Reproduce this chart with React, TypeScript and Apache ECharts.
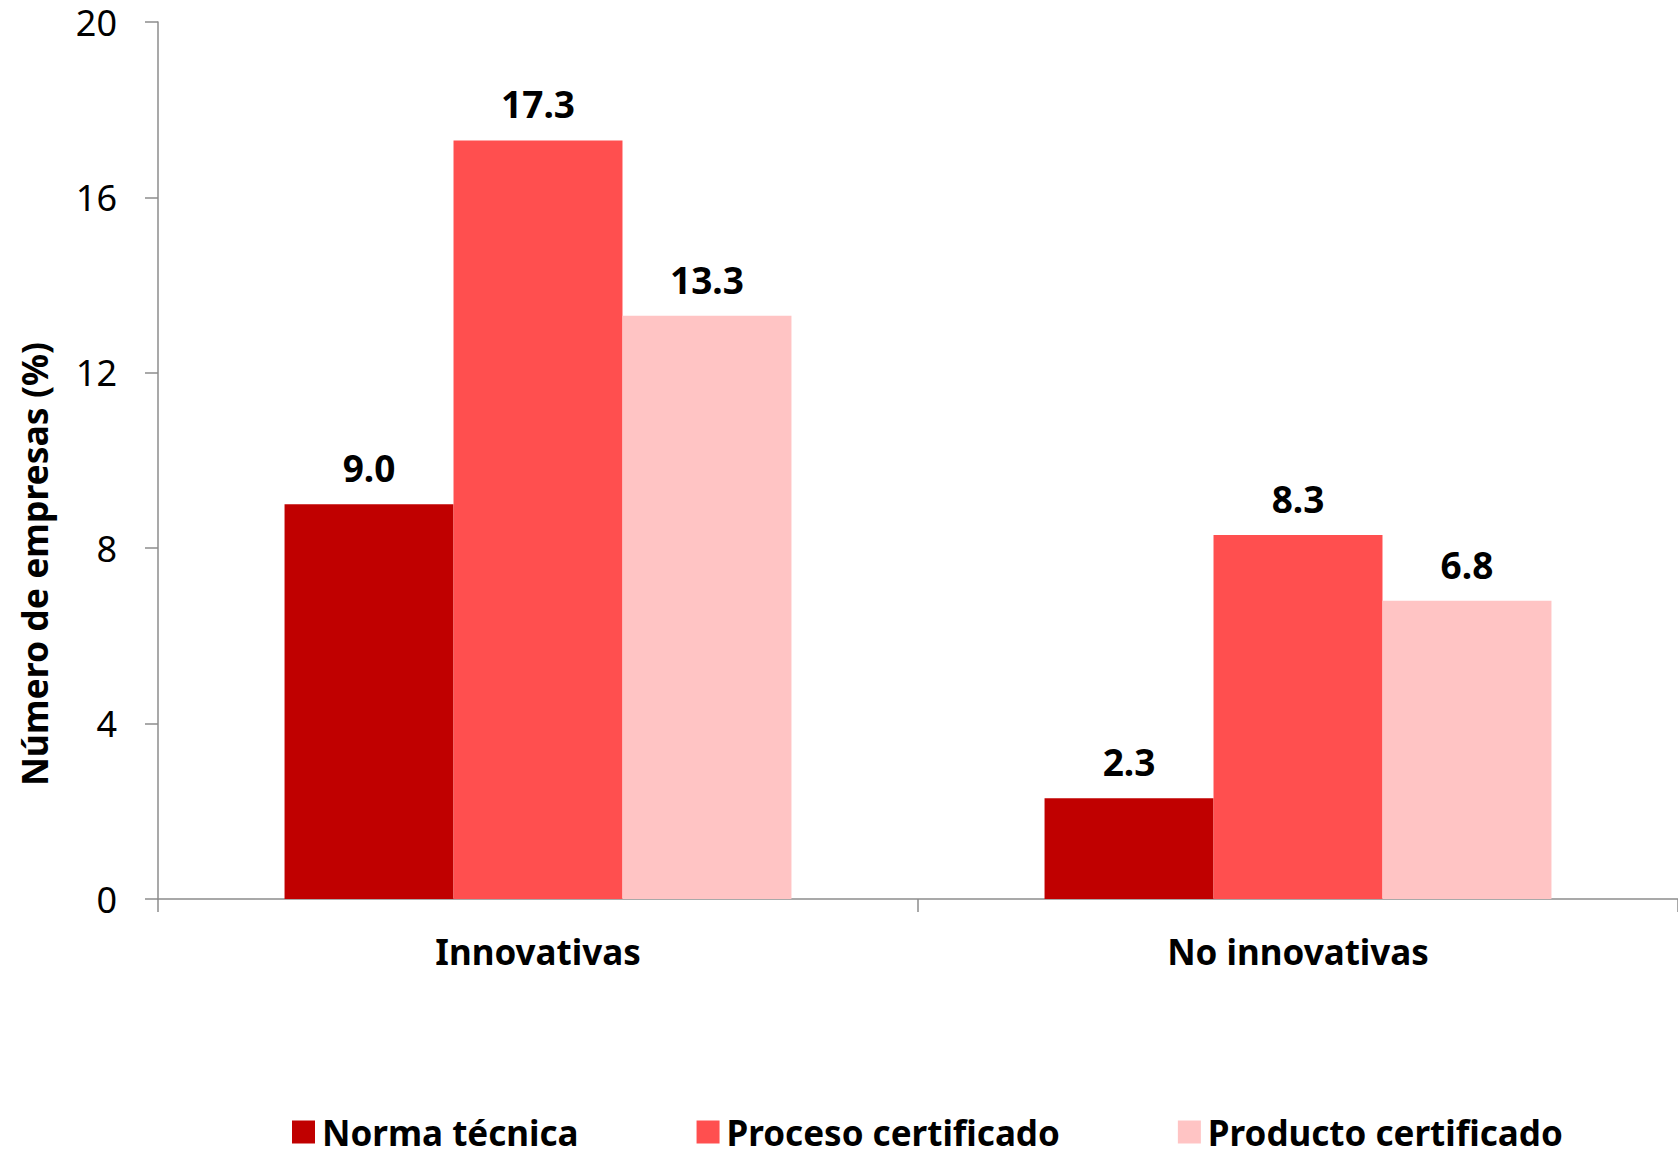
import React, { useEffect, useRef } from "react";
import * as echarts from "echarts";

const categories = ["Innovativas", "No innovativas"];
const seriesNames = ["Norma técnica", "Proceso certificado", "Producto certificado"];
const normaTecnica = [9.0, 2.3];
const procesoCertificado = [17.3, 8.3];
const productoCertificado = [13.3, 6.8];
const yTicks = { min: 0, max: 20, interval: 4 };
const colors = ["#C00000", "#FF4F4F", "#FFC4C4"];
const yAxisTitle = "Número de empresas (%)";

const FONT = "Noto Sans";

export default function App() {
  const ref = useRef<HTMLDivElement>(null);
  useEffect(() => {
    if (!ref.current) return;
    const chart = echarts.init(ref.current, undefined, { renderer: "svg" });
    const values = [normaTecnica, procesoCertificado, productoCertificado];
    chart.setOption({
      animation: false,
      backgroundColor: "#ffffff",
      textStyle: { fontFamily: FONT },
      grid: { left: 158, top: 22, width: 1524, height: 877, containLabel: false },
      legend: {
        data: seriesNames,
        left: 287,
        top: 1109,
        itemWidth: 23,
        itemHeight: 23,
        itemGap: 118,
        icon: "rect",
        textStyle: {
          fontFamily: FONT,
          fontSize: 35,
          lineHeight: 36,
          fontWeight: "bold",
          color: "#000",
          padding: [0, 0, 0, 2],
        },
      },
      xAxis: {
        type: "category",
        data: categories,
        axisLine: { show: true, lineStyle: { color: "#8c8c8c", width: 1.5 } },
        axisTick: { show: true, length: 13, lineStyle: { color: "#8c8c8c", width: 1.5 } },
        axisLabel: { margin: 35, fontFamily: FONT, fontSize: 35, fontWeight: "bold", color: "#000" },
      },
      yAxis: {
        type: "value",
        min: yTicks.min,
        max: yTicks.max,
        interval: yTicks.interval,
        axisLine: { show: true, lineStyle: { color: "#8c8c8c", width: 1.5 } },
        axisTick: { show: true, length: 13, lineStyle: { color: "#8c8c8c", width: 1.5 } },
        splitLine: { show: false },
        axisLabel: { margin: 41, fontFamily: FONT, fontSize: 36, lineHeight: 36, color: "#000" },
      },
      graphic: [
        {
          type: "text",
          x: 34,
          y: 564,
          rotation: Math.PI / 2,
          style: {
            text: yAxisTitle,
            fontFamily: FONT,
            fontSize: 35.5,
            fontWeight: "bold",
            fill: "#000",
            align: "center",
            verticalAlign: "middle",
          },
        },
      ],
      series: seriesNames.map((name, i) => ({
        name,
        type: "bar",
        data: values[i],
        barGap: "0%",
        barCategoryGap: "33.3%",
        itemStyle: { color: colors[i] },
        label: {
          show: true,
          position: "top",
          distance: 18,
          formatter: (p: any) => Number(p.value).toFixed(1),
          fontFamily: FONT,
          fontSize: 37,
          fontWeight: "bold",
          color: "#000",
        },
      })),
    });
    return () => chart.dispose();
  }, []);
  return (
    <div
      ref={ref}
      style={{ position: "fixed", left: 0, top: 0, width: 1678, height: 1152 }}
    />
  );
}
